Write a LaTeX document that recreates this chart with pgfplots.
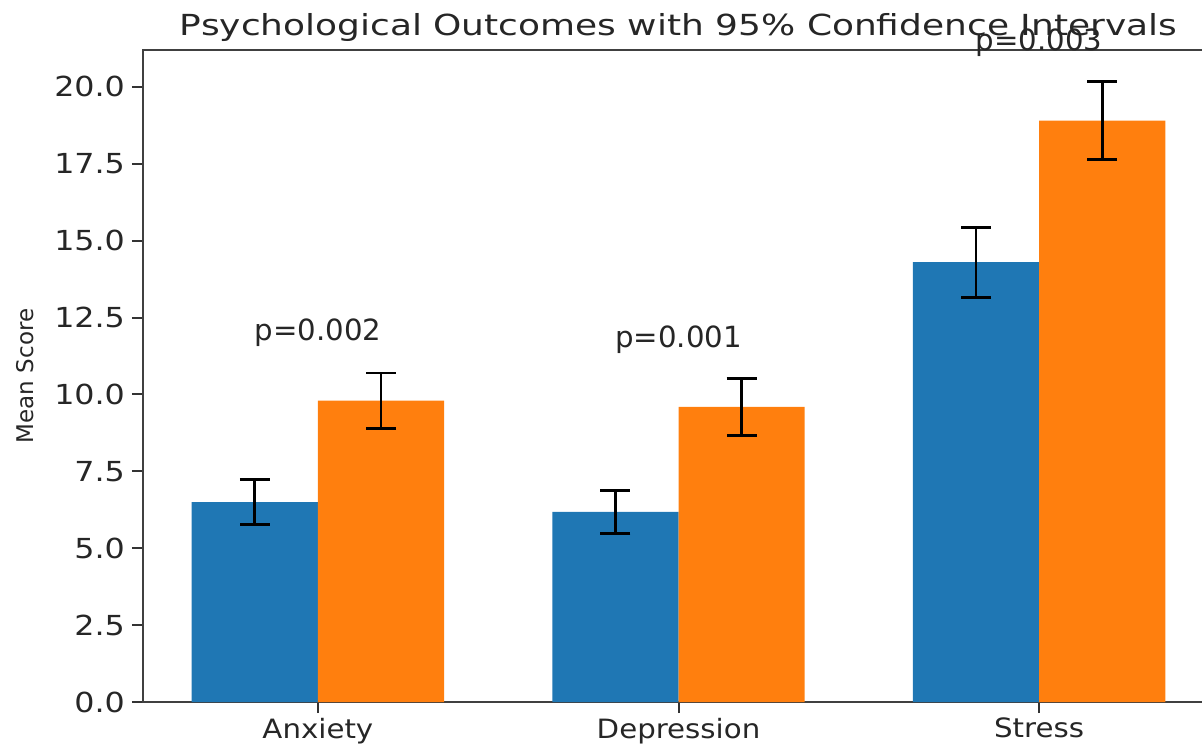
\documentclass[border=0pt]{standalone}
\usepackage{pgfplots}
\pgfplotsset{compat=1.18}
\usepackage{fontspec}
\setmainfont{DejaVu Sans}
\newfontfamily\titlefont{DejaVu Sans}[FakeStretch=1.24]
\newfontfamily\tickfont{DejaVu Sans}[FakeStretch=1.15]
\newfontfamily\xtickfont{DejaVu Sans}[FakeStretch=1.1]
\definecolor{mblue}{HTML}{1F77B4}
\definecolor{morange}{HTML}{FF7F0E}
\begin{document}
\begin{tikzpicture}
\useasboundingbox (-71.5pt,-21pt) rectangle (529.5pt,351pt);
\begin{axis}[
  at={(0,0)}, anchor=south west,
  scale only axis, width=535.5pt, height=326pt,
  xmin=-0.485, xmax=2.485, ymin=0, ymax=21.2,
  xtick={0,1,2}, xticklabels={Anxiety,Depression,Stress},
  ytick={0,2.5,5,7.5,10,12.5,15,17.5,20},
  yticklabel style={font=\tickfont\fontsize{13.8}{16}\selectfont, black!85,
    /pgf/number format/fixed, /pgf/number format/fixed zerofill, /pgf/number format/precision=1},
  /pgf/number format/assume math mode=true,
  xticklabel style={font=\xtickfont\fontsize{13.3}{16}\selectfont, black!85, yshift=1pt},
  tick align=outside, xtick pos=bottom, ytick pos=left,
  major tick length=5.5pt,
  tick style={line width=1pt, black!80},
  axis line style={line width=1.2pt, black!75},
  ybar, bar width=0.35,
  title={Psychological Outcomes with 95\% Confidence Intervals},
  title style={font=\titlefont\fontsize{14.5}{17}\selectfont, at={(axis description cs:0.5,1)}, anchor=base, yshift=1pt, black!85},
  ylabel={Mean Score},
  ylabel style={font=\fontsize{11.5}{14}\selectfont, at={(axis description cs:-0.1102,0.5)}, anchor=center, black!85},
  clip=false,
  error bars/error bar style={line width=1.4pt, black},
  error bars/error mark options={rotate=90, mark size=7.5pt, line width=1.4pt, black},
]
\addplot[fill=mblue, draw=none, bar shift=-0.175, error bars/.cd, y dir=both, y explicit]
  coordinates {(0,6.5) +- (0,0.73) (1,6.18) +- (0,0.70) (2,14.3) +- (0,1.14)};
\addplot[fill=morange, draw=none, bar shift=0.175, error bars/.cd, y dir=both, y explicit]
  coordinates {(0,9.8) +- (0,0.90) (1,9.6) +- (0,0.93) (2,18.9) +- (0,1.27)};
\node[font=\fontsize{14.6}{16}\selectfont, black!85] at (axis cs:0,12.0) {p=0.002};
\node[font=\fontsize{14.6}{16}\selectfont, black!85] at (axis cs:1,11.77) {p=0.001};
\node[font=\fontsize{14.6}{16}\selectfont, black!85] at (axis cs:2,21.45) {p=0.003};
\end{axis}
\end{tikzpicture}
\end{document}
